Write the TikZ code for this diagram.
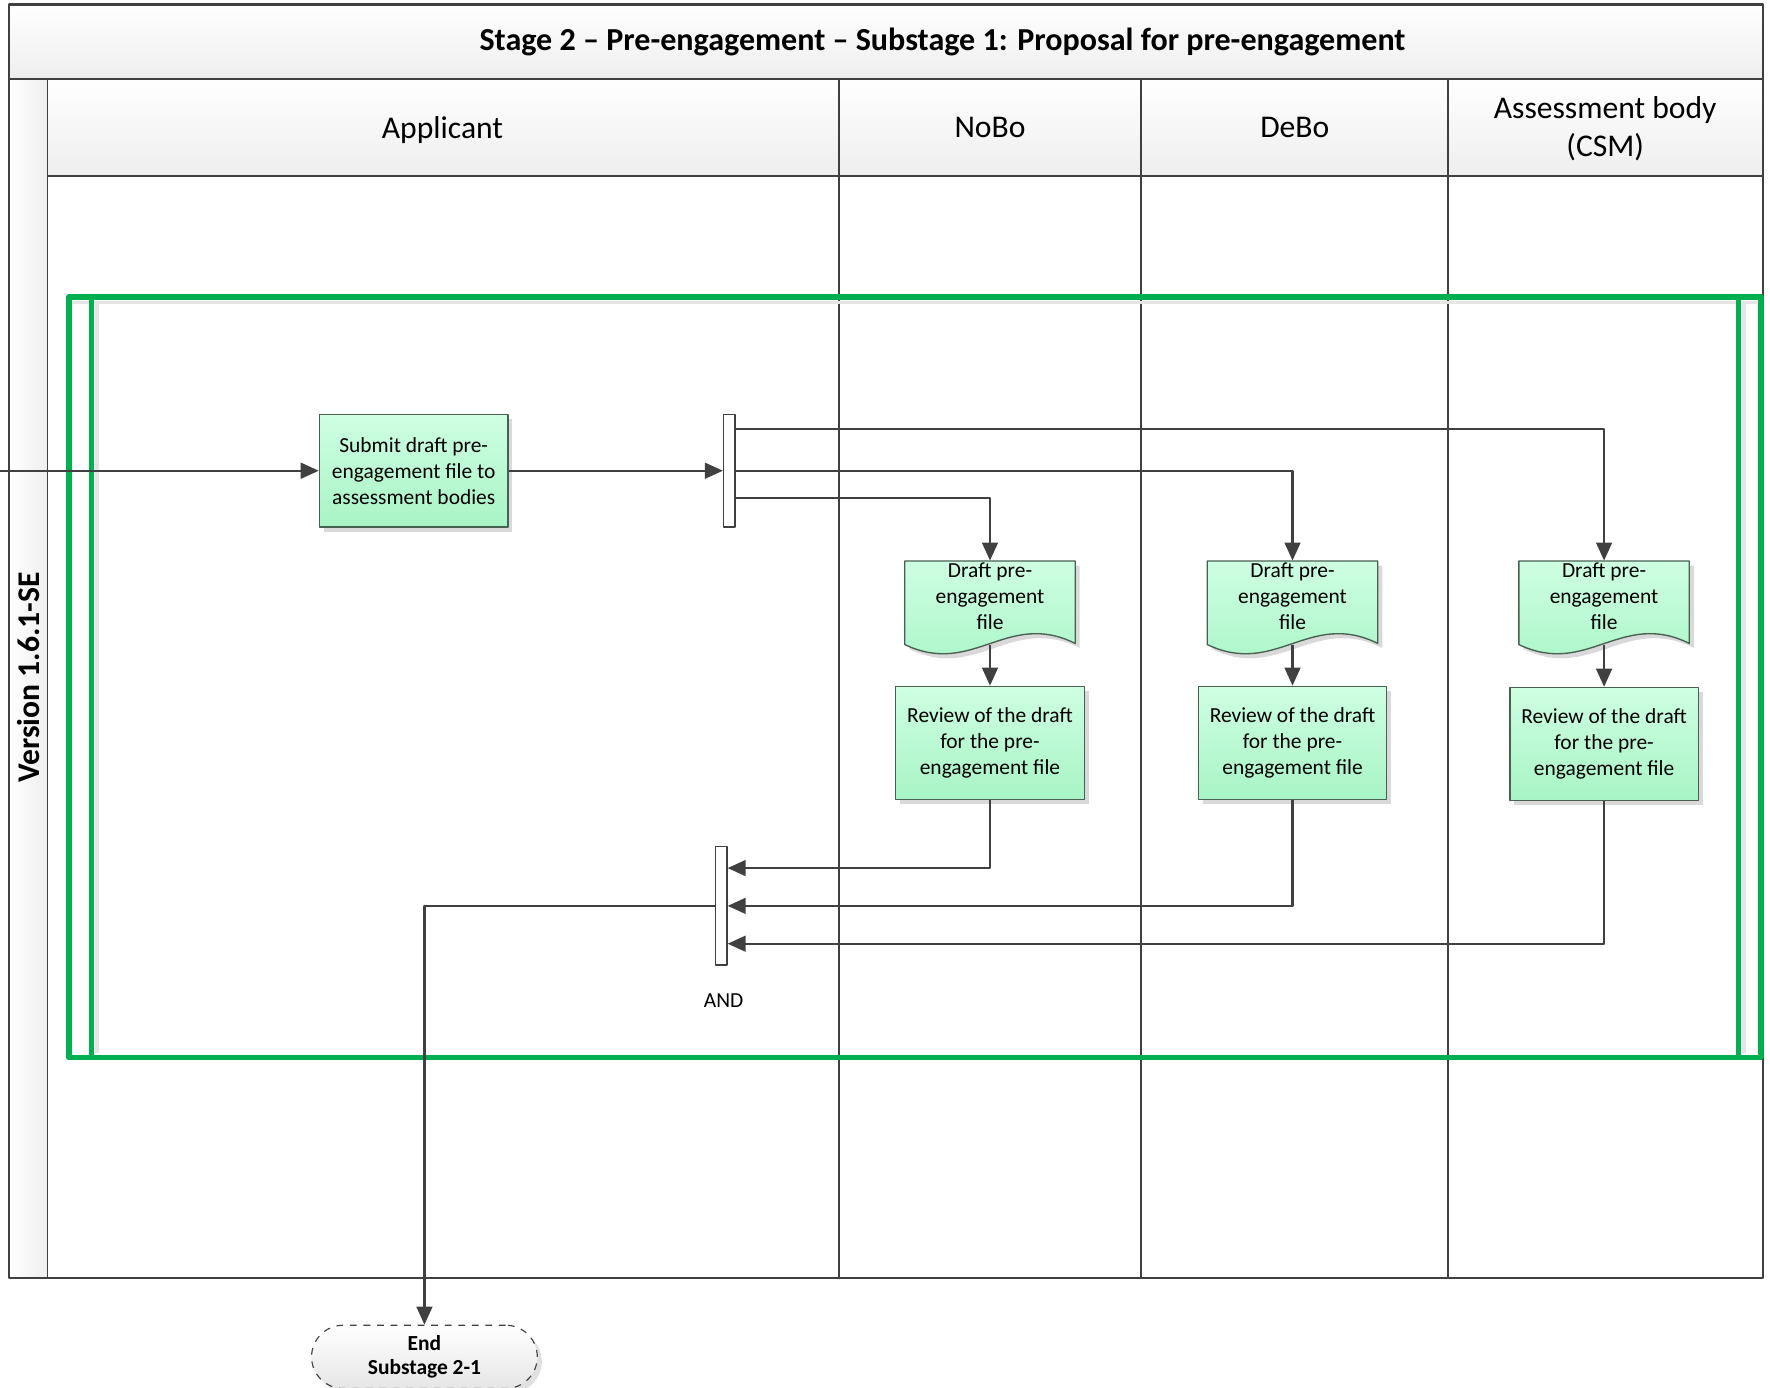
\documentclass[tikz,border=0pt]{standalone}
\usepackage{fontspec}
\setmainfont{Carlito}
\usetikzlibrary{arrows.meta,shadows}
\definecolor{linegray}{RGB}{64,64,64}
\definecolor{framegreen}{RGB}{0,176,80}
\definecolor{boxtop}{RGB}{206,255,226}
\definecolor{boxbottom}{RGB}{168,244,198}
\definecolor{boxedge}{RGB}{72,96,80}
\definecolor{bandgray}{RGB}{238,238,238}
\begin{document}
\begin{tikzpicture}[x=0.5pt,y=-0.5pt,line join=round,>={Triangle[length=8pt,width=7pt]},
	font=\fontsize{9.5}{11.5}\selectfont,
	lane/.style={draw=linegray,line width=0.75pt},
	frame/.style={draw=framegreen,line width=2.4pt},
	flow/.style={draw=linegray,line width=1pt,->},
	task/.style={draw=boxedge,line width=0.6pt,top color=boxtop,bottom color=boxbottom,
		minimum width=83.5pt,minimum height=50pt,align=center,inner sep=2pt,
		drop shadow={shadow xshift=2pt,shadow yshift=-2pt,fill=black!15,opacity=1}},
	docnode/.style={minimum width=75.5pt,minimum height=37pt,align=center,inner sep=0pt,text depth=5.5pt},
	bar/.style={draw=linegray,line width=0.6pt,fill=white,minimum width=5pt,inner sep=0pt},
	terminal/.style={draw=linegray,dashed,line width=0.5pt,rounded corners=14pt,top color=white,bottom color=black!10,
		minimum width=100pt,minimum height=28pt,align=center,inner sep=2pt,font=\fontsize{9.5}{11}\selectfont\bfseries,
		drop shadow={shadow xshift=2pt,shadow yshift=-2pt,fill=black!12,opacity=1}},
	heading/.style={font=\fontsize{14}{16.5}\selectfont,align=center}]
	\useasboundingbox (0,0) rectangle (1568,1229);
	% pool: title band, lane headers, version column
	\fill[top color=white,bottom color=bandgray] (8,4) rectangle (1562,70);
	\fill[top color=white,bottom color=bandgray] (42,70) rectangle (1562,156);
	\fill[left color=white,right color=bandgray] (8,70) rectangle (42,1132);
	\draw[lane,line width=1pt] (8,4) rectangle (1562,1132);
	\draw[lane,line width=1pt] (8,70) -- (1562,70);
	\draw[lane] (42,70) -- (42,1132);
	\draw[lane] (42,156) -- (1562,156);
	\foreach \lx in {743,1011,1283}
		\draw[lane] (\lx,70) -- (\lx,1132);
	\node[font=\fontsize{14.2}{16}\selectfont\bfseries] (title) at (835,37) {Stage 2 – Pre-engagement – Substage 1: Proposal for pre-engagement};
	\node[font=\fontsize{14}{16}\selectfont\bfseries,rotate=90] (version) at (25,600) {Version 1.6.1-SE};
	\node[heading] (applicant) at (392,115) {Applicant};
	\node[heading] (nobo) at (877,113) {NoBo};
	\node[heading] (debo) at (1147,113) {DeBo};
	\node[heading] (csm) at (1422,114) {Assessment body\\(CSM)};
	% green container
	\draw[black!10,line width=1.5pt] (64,268) -- (1557,268);
	\draw[black!10,line width=1.5pt] (86,268) -- (86,933);
	\draw[black!10,line width=1.5pt] (1545,268) -- (1545,933);
	\draw[frame] (61,263) rectangle (1560,937);
	\draw[frame] (81,263) -- (81,937);
	\draw[frame] (1540,263) -- (1540,937);
	% document shapes
	\foreach \cx in {877,1145,1421} {
		\fill[black!15] (\cx-71.5,501) -- (\cx+79.5,501) -- (\cx+79.5,574)
			.. controls (\cx+18.5,544) and (\cx-11.5,604) .. (\cx-71.5,575) -- cycle;
		\draw[draw=boxedge,line width=0.6pt,top color=boxtop,bottom color=boxbottom] (\cx-75.5,497) -- (\cx+75.5,497) -- (\cx+75.5,570)
			.. controls (\cx+15,540) and (\cx-15,600) .. (\cx-75.5,571) -- cycle;
	}
	\coordinate (entry) at (0,417);
	\node[task] (submit) at (366.5,417) {Submit draft pre-\\engagement file to\\assessment bodies};
	\node[bar,minimum height=50pt] (fork) at (646,417) {};
	\node[docnode] (nobodoc) at (877,534) {Draft pre-\\engagement\\file};
	\node[docnode] (debodoc) at (1145,534) {Draft pre-\\engagement\\file};
	\node[docnode] (csmdoc) at (1421,534) {Draft pre-\\engagement\\file};
	\node[task] (noborev) at (877,658) {Review of the draft\\for the pre-\\engagement file};
	\node[task] (deborev) at (1145,658) {Review of the draft\\for the pre-\\engagement file};
	\node[task] (csmrev) at (1421,659) {Review of the draft\\for the pre-\\engagement file};
	\node[bar,minimum height=52.5pt] (join) at (639,802.5) {};
	\node (andlabel) at (641,886) {AND};
	\node[terminal] (endnode) at (376,1202) {End\\Substage 2-1};
	% connectors
	\draw[flow] (entry) -- (submit);
	\draw[flow] (submit) -- (fork);
	\draw[flow] ([yshift=18.5pt]fork.east) -| (csmdoc.north);
	\draw[flow] (fork.east) -| (debodoc.north);
	\draw[flow] ([yshift=-12pt]fork.east) -| (nobodoc.north);
	\draw[flow] (nobodoc.south) -- (noborev);
	\draw[flow] (debodoc.south) -- (deborev);
	\draw[flow] (csmdoc.south) -- (csmrev);
	\draw[flow] (noborev.south) |- ([yshift=16.75pt]join.east);
	\draw[flow] (deborev.south) |- (join.east);
	\draw[flow] (csmrev.south) |- ([yshift=-16.75pt]join.east);
	\draw[flow] (join.west) -| (endnode.north);
\end{tikzpicture}
\end{document}
